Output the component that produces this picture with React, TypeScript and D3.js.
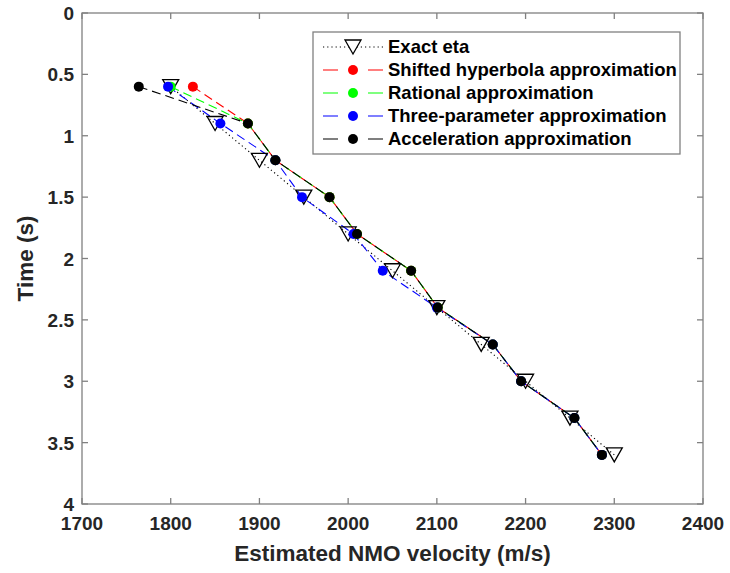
import React from "react";
import * as d3 from "d3";

const times = [0.6, 0.9, 1.2, 1.5, 1.8, 2.1, 2.4, 2.7, 3.0, 3.3, 3.6];
const exactEta = [1800, 1850, 1900, 1950, 2000, 2050, 2100, 2150, 2200, 2250, 2300];
const shiftedHyperbola = [1825, 1887, 1918, 1979, 2010, 2071, 2101, 2163, 2195, 2255, 2286];
const rational = [1800, 1887, 1918, 1979, 2010, 2071, 2101, 2163, 2195, 2255, 2286];
const threeParameter = [1797, 1856, 1918, 1948, 2006, 2039, 2100, 2163, 2195, 2255, 2286];
const acceleration = [1764, 1887, 1918, 1979, 2010, 2071, 2101, 2163, 2195, 2255, 2286];

const xTicks = [1700, 1800, 1900, 2000, 2100, 2200, 2300, 2400];
const yTicks = [0, 0.5, 1, 1.5, 2, 2.5, 3, 3.5, 4];
const yTickLabels = ["0", "0.5", "1", "1.5", "2", "2.5", "3", "3.5", "4"];

const seriesNames = [
  "Exact eta",
  "Shifted hyperbola approximation",
  "Rational approximation",
  "Three-parameter approximation",
  "Acceleration approximation",
];
const seriesColors = ["#000000", "#ff0000", "#00ff00", "#0000ff", "#000000"];

const W = 730;
const H = 573;
const left = 82;
const right = 703;
const top = 13;
const bottom = 504;
const font = "'Liberation Sans', Arial, Helvetica, sans-serif";
const axisColor = "#808080";
const textColor = "#262626";

export default function App() {
  const x = d3.scaleLinear().domain([1700, 2400]).range([left, right]);
  const y = d3.scaleLinear().domain([0, 4]).range([top, bottom]);

  const seriesData = [exactEta, shiftedHyperbola, rational, threeParameter, acceleration];
  const line = d3
    .line<[number, number]>()
    .x((d) => x(d[0]))
    .y((d) => y(d[1]));

  const tri = "M-8,-7L8,-7L0,7Z";
  const tickLen = 6;

  const legX = 313;
  const legY = 32;
  const legW = 367;
  const legH = 122;
  const rowY = (i: number) => legY + 15 + i * 23;

  return (
    <svg
      width={W}
      height={H}
      style={{ position: "absolute", left: 0, top: 0, background: "#fff" }}
      fontFamily={font}
    >
      <rect x={0} y={0} width={W} height={H} fill="#fff" />
      {/* axis box */}
      <rect
        x={left}
        y={top}
        width={right - left}
        height={bottom - top}
        fill="none"
        stroke={axisColor}
        strokeWidth={1.3}
      />
      {/* ticks */}
      {xTicks.map((t, i) => (
        <g key={"xt" + i}>
          <line x1={x(t)} x2={x(t)} y1={bottom} y2={bottom - tickLen} stroke={axisColor} strokeWidth={1.3} />
          <line x1={x(t)} x2={x(t)} y1={top} y2={top + tickLen} stroke={axisColor} strokeWidth={1.3} />
          <text
            x={x(t)}
            y={bottom + 26}
            textAnchor="middle"
            fontSize={19}
            fontWeight="bold"
            fill={textColor}
          >
            {t}
          </text>
        </g>
      ))}
      {yTicks.map((t, i) => (
        <g key={"yt" + i}>
          <line x1={left} x2={left + tickLen} y1={y(t)} y2={y(t)} stroke={axisColor} strokeWidth={1.3} />
          <line x1={right} x2={right - tickLen} y1={y(t)} y2={y(t)} stroke={axisColor} strokeWidth={1.3} />
          <text
            x={left - 8}
            y={y(t) + 7}
            textAnchor="end"
            fontSize={19}
            fontWeight="bold"
            fill={textColor}
          >
            {yTickLabels[i]}
          </text>
        </g>
      ))}
      {/* axis labels */}
      <text
        x={(left + right) / 2}
        y={561}
        textAnchor="middle"
        fontSize={22.5}
        fontWeight="bold"
        fill={textColor}
      >
        Estimated NMO velocity (m/s)
      </text>
      <text
        transform={`translate(33,${(top + bottom) / 2}) rotate(-90)`}
        textAnchor="middle"
        fontSize={22.5}
        fontWeight="bold"
        fill={textColor}
      >
        Time (s)
      </text>

      {/* series lines */}
      {seriesData.map((vals, si) => {
        const pts = vals.map((v, i) => [v, times[i]] as [number, number]);
        return (
          <path
            key={"l" + si}
            d={line(pts) || ""}
            fill="none"
            stroke={seriesColors[si]}
            strokeWidth={1.1}
            strokeDasharray={si === 0 ? "1.2,3" : "9,5"}
          />
        );
      })}
      {/* markers */}
      {seriesData.map((vals, si) =>
        vals.map((v, i) =>
          si === 0 ? (
            <path
              key={"m" + si + "-" + i}
              d={tri}
              transform={`translate(${x(v)},${y(times[i])})`}
              fill="none"
              stroke="#000"
              strokeWidth={1.3}
            />
          ) : (
            <circle
              key={"m" + si + "-" + i}
              cx={x(v)}
              cy={y(times[i])}
              r={5}
              fill={seriesColors[si]}
            />
          )
        )
      )}

      {/* legend */}
      <rect x={legX} y={legY} width={legW} height={legH} fill="#fff" stroke={axisColor} strokeWidth={1.3} />
      {seriesNames.map((name, i) => (
        <g key={"lg" + i}>
          <line
            x1={legX + 10}
            x2={legX + 70}
            y1={rowY(i)}
            y2={rowY(i)}
            stroke={seriesColors[i]}
            strokeWidth={1.1}
            strokeDasharray={i === 0 ? "1.2,3" : "15,30"}
          />
          {i === 0 ? (
            <path
              d={tri}
              transform={`translate(${legX + 40},${rowY(i)})`}
              fill="#fff"
              stroke="#000"
              strokeWidth={1.3}
            />
          ) : (
            <circle cx={legX + 40} cy={rowY(i)} r={5} fill={seriesColors[i]} />
          )}
          <text
            x={legX + 75}
            y={rowY(i) + 6}
            fontSize={18.5}
            fontWeight="bold"
            fill="#000"
          >
            {name}
          </text>
        </g>
      ))}
    </svg>
  );
}
